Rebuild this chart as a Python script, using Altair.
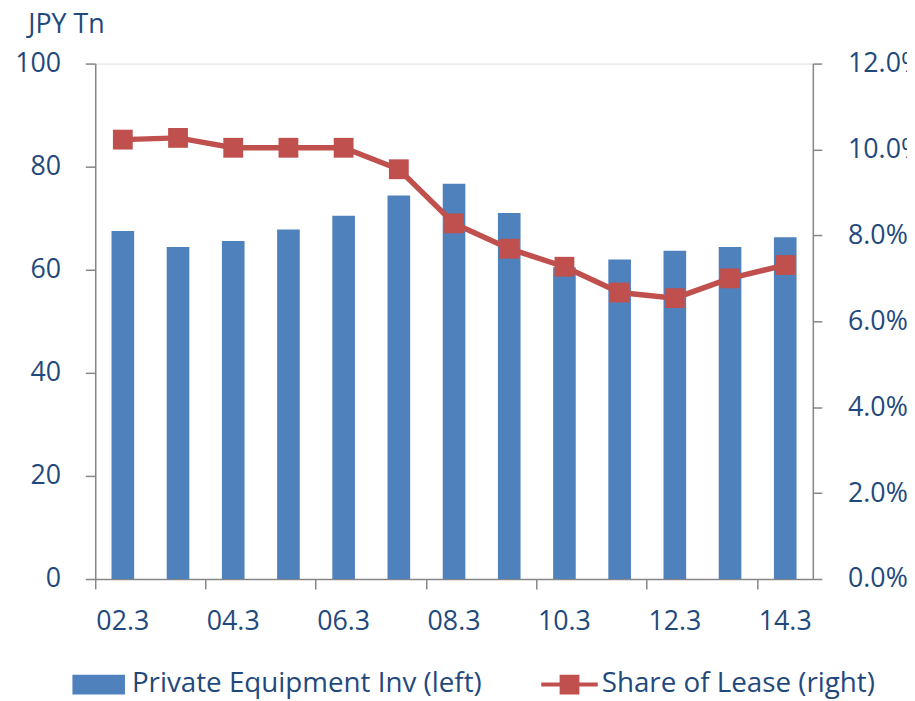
import altair as alt
import pandas as pd

# ---- data ----
categories = ["02.3", "03.3", "04.3", "05.3", "06.3", "07.3", "08.3",
              "09.3", "10.3", "11.3", "12.3", "13.3", "14.3"]
shown_labels = ["02.3", "04.3", "06.3", "08.3", "10.3", "12.3", "14.3"]
equipment_inv = [67.5, 64.4, 65.6, 67.8, 70.5, 74.4, 76.7, 71.0, 60.5, 62.0, 63.7, 64.4, 66.3]
lease_share_pct = [10.23, 10.27, 10.04, 10.04, 10.04, 9.54, 8.28, 7.69, 7.27, 6.67, 6.54, 7.00, 7.31]
left_ticks = [0, 20, 40, 60, 80, 100]
right_ticks = [0, 0.02, 0.04, 0.06, 0.08, 0.10, 0.12]
bar_label = "Private Equipment Inv (left)"
line_label = "Share of Lease (right)"

df = pd.DataFrame({
    "cat": categories,
    "inv": equipment_inv,
    "share": [v / 100 for v in lease_share_pct],
    "bar_series": bar_label,
    "line_series": line_label,
})

# ---- style ----
W, H = 724, 520
BLUE = "#4F81BD"
RED = "#C0504D"
TXT = "#1F497D"
GRAY = "#868686"
FONT = "Open Sans"
FS = 27
LFS = 28

x_enc = alt.X(
    "cat:N", sort=categories,
    scale=alt.Scale(domain=categories, paddingInner=0, paddingOuter=0),
    axis=alt.Axis(values=shown_labels, bandPosition=0,
                  labelAngle=0, tickSize=10, tickWidth=1.5, tickColor=GRAY,
                  domainColor=GRAY, domainWidth=1.5, labelPadding=20,
                  labelFontSize=FS, labelColor=TXT, labelFont=FONT,
                  title=None, grid=False),
)

bars = alt.Chart(df).mark_bar(width=alt.RelativeBandSize(0.41)).encode(
    x=x_enc,
    y=alt.Y("inv:Q", scale=alt.Scale(domain=[0, 100], nice=False),
            axis=alt.Axis(values=left_ticks, tickSize=10, tickWidth=1.5,
                          tickColor=GRAY, domainColor=GRAY, domainWidth=1.5,
                          labelPadding=25, labelFontSize=FS, labelColor=TXT,
                          labelFont=FONT, grid=False,
                          title="JPY Tn", titleAngle=0, titleX=-68, titleY=-31,
                          titleAlign="left", titleBaseline="alphabetic",
                          titleFontWeight="normal", titleFontSize=FS,
                          titleColor=TXT, titleFont=FONT)),
    color=alt.Color("bar_series:N",
                    scale=alt.Scale(domain=[bar_label], range=[BLUE]),
                    legend=alt.Legend(title=None, orient="none", legendX=-23,
                                      legendY=600, padding=0, labelLimit=0,
                                      symbolType="M-1,-0.377H1V0.377H-1Z",
                                      symbolSize=2809, symbolStrokeWidth=0,
                                      labelFontSize=LFS, labelColor=TXT,
                                      labelFont=FONT, labelOffset=7)),
)

y_right = alt.Y("share:Q", scale=alt.Scale(domain=[0, 0.12], nice=False),
                axis=alt.Axis(orient="right", values=right_ticks, format=".1%",
                              tickSize=9, tickWidth=1.5, tickColor=GRAY,
                              domainColor=GRAY, domainWidth=1.5, labelPadding=26,
                              labelFontSize=FS, labelColor=TXT, labelFont=FONT,
                              grid=False, title=None))

line = alt.Chart(df).mark_line(color=RED, strokeWidth=5.5).encode(
    x=x_enc, y=y_right)

points = alt.Chart(df).mark_point(shape="square", filled=True, size=400,
                                  opacity=1, strokeWidth=0).encode(
    x=x_enc, y=y_right,
    fill=alt.Fill("line_series:N",
                  scale=alt.Scale(domain=[line_label], range=[RED]),
                  legend=alt.Legend(title=None, orient="none", legendX=450,
                                    legendY=598, padding=0, labelLimit=0,
                                    symbolType="M-1,-0.07H1V0.07H-1Z M-0.35,-0.35H0.35V0.35H-0.35Z",
                                    symbolSize=3249, symbolStrokeWidth=0,
                                    labelFontSize=LFS, labelColor=TXT,
                                    labelFont=FONT, labelOffset=4)),
)

right_layer = alt.layer(line, points)

chart = alt.layer(bars, right_layer).resolve_scale(y="independent").properties(
    width=W, height=H,
    autosize=alt.AutoSizeParams(type="none"),
    padding={"left": 88, "top": 53, "right": 95, "bottom": 120},
).configure_view(strokeWidth=0).configure(font=FONT)

chart.save("out.html", embed_options={"renderer": "svg", "actions": False})
